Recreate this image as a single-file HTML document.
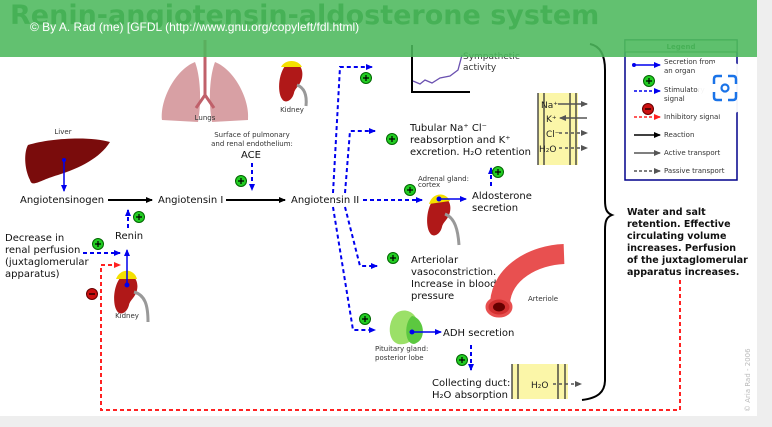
<!DOCTYPE html>
<html><head><meta charset="utf-8"><style>
html,body{margin:0;padding:0;background:#eeeeee;}
svg{display:block;font-family:"DejaVu Sans","Liberation Sans",sans-serif;}
</style></head><body>
<svg width="772" height="427" viewBox="0 0 772 427" xmlns="http://www.w3.org/2000/svg">
<defs>
<marker id="ab" markerUnits="userSpaceOnUse" markerWidth="7" markerHeight="7" refX="6" refY="3.5" orient="auto"><path d="M0,0.5 L7,3.5 L0,6.5z" fill="#0000ee"/></marker>
<marker id="ak" markerUnits="userSpaceOnUse" markerWidth="7" markerHeight="7" refX="6" refY="3.5" orient="auto"><path d="M0,0.5 L7,3.5 L0,6.5z" fill="#000"/></marker>
<marker id="ag" markerUnits="userSpaceOnUse" markerWidth="7" markerHeight="7" refX="6" refY="3.5" orient="auto"><path d="M0,0.5 L7,3.5 L0,6.5z" fill="#555"/></marker>
<marker id="ar" markerUnits="userSpaceOnUse" markerWidth="7" markerHeight="7" refX="6" refY="3.5" orient="auto"><path d="M0,0.5 L7,3.5 L0,6.5z" fill="#f22"/></marker>
<g id="plus"><circle r="5.5" fill="#22cc22" stroke="#060" stroke-width="1"/><path d="M-3,0h6M0,-3v6" stroke="#000" stroke-width="1.2"/></g>
<g id="minus"><circle r="5.5" fill="#cc1111" stroke="#600" stroke-width="1"/><path d="M-3,0h6" stroke="#000" stroke-width="1.2"/></g>
<g id="kid"><path d="M9,0 C19,-1 24,7 22,16 C20,24 15,26 14,31 C12,39 5,42 2,37 C-3,30 -2,8 9,0z" fill="#b01818"/></g>
</defs>
<rect x="0" y="0" width="757" height="416" fill="#fff"/>
<text x="10" y="24" font-size="27" font-weight="bold" fill="#1d7a2c">Renin-angiotensin-aldosterone system</text>

<!-- lungs -->
<path d="M195,62 C175,70 160,100 162,120 L198,122 C202,100 200,75 195,62z M215,62 C235,70 250,100 248,120 L212,122 C208,100 210,75 215,62z" fill="#d8a0a4"/>
<path d="M205,40 V95 M205,95 L196,108 M205,95 L214,108" stroke="#c0606a" stroke-width="3" fill="none"/>
<text x="205" y="120" font-size="7" text-anchor="middle" fill="#333">Lungs</text>
<use href="#kid" x="280" y="62"/>
<path d="M281,67 C285,59 298,59 302,67z" fill="#f4e000"/>
<path d="M297,85 C305,88 307,96 306,106" stroke="#999" stroke-width="3" fill="none"/>
<text x="292" y="112" font-size="7" text-anchor="middle" fill="#333">Kidney</text>

<!-- liver -->
<text x="63" y="134" font-size="7" text-anchor="middle" fill="#333">Liver</text>
<path d="M28,145 C50,138 90,136 110,142 C100,158 80,168 58,175 C40,180 32,188 30,180 C24,168 24,152 28,145z" fill="#7a0c0c"/>
<path d="M64,160 V191" stroke="#0000ee" stroke-width="1.5" marker-end="url(#ab)"/><circle cx="64" cy="160" r="2" fill="#0000ee"/>

<g font-size="10" fill="#111">
<text x="20" y="203">Angiotensinogen</text>
<text x="158" y="203">Angiotensin I</text>
<text x="291" y="203">Angiotensin II</text>
<text x="115" y="239">Renin</text>
<text x="5" y="241">Decrease in</text>
<text x="5" y="253">renal perfusion</text>
<text x="5" y="265">(juxtaglomerular</text>
<text x="5" y="277">apparatus)</text>
<text x="251" y="158" text-anchor="middle">ACE</text>
<text x="410" y="131">Tubular Na⁺ Cl⁻</text>
<text x="410" y="143">reabsorption and K⁺</text>
<text x="410" y="155">excretion. H₂O retention</text>
<text x="472" y="199">Aldosterone</text>
<text x="472" y="211">secretion</text>
<text x="411" y="263">Arteriolar</text>
<text x="411" y="275">vasoconstriction.</text>
<text x="411" y="287">Increase in blood</text>
<text x="411" y="299">pressure</text>
<text x="443" y="336">ADH secretion</text>
<text x="432" y="386">Collecting duct:</text>
<text x="432" y="398">H₂O absorption</text>
</g>
<text x="463" y="59" font-size="9" fill="#333">Sympathetic</text>
<text x="463" y="70" font-size="9" fill="#333">activity</text>
<g font-size="7" fill="#333">
<text x="252" y="137" text-anchor="middle">Surface of pulmonary</text>
<text x="252" y="146" text-anchor="middle">and renal endothelium:</text>
<text x="418" y="181">Adrenal gland:</text>
<text x="418" y="187">cortex</text>
<text x="127" y="318" text-anchor="middle">Kidney</text>
<text x="528" y="301">Arteriole</text>
<text x="375" y="351">Pituitary gland:</text>
<text x="375" y="360">posterior lobe</text>
</g>

<path d="M108,200 H152" stroke="#000" stroke-width="2" marker-end="url(#ak)"/>
<path d="M226,200 H285" stroke="#000" stroke-width="2" marker-end="url(#ak)"/>
<g stroke="#0000ee" stroke-width="2" stroke-dasharray="4,3" fill="none" marker-end="url(#ab)">
<path d="M252,163 V190"/>
<path d="M128,228 V210"/>
<path d="M83,253 H120"/>
<path d="M363,200 H422"/>
<path d="M333,193 L340,67 H372"/>
<path d="M345,193 L350,131 H375"/>
<path d="M345,207 L360,266 H377"/>
<path d="M333,207 L353,330 H375"/>
<path d="M491,186 V168"/>
<path d="M471,345 V370"/>
</g>
<g stroke="#f22" stroke-width="2" stroke-dasharray="4,3" fill="none">
<path d="M680,280 V410 H101 V265 H120" marker-end="url(#ar)"/>
</g>
<use href="#plus" x="139" y="217"/><use href="#plus" x="98" y="244"/><use href="#plus" x="241" y="181"/>
<use href="#plus" x="366" y="78"/><use href="#plus" x="392" y="139"/><use href="#plus" x="410" y="190"/>
<use href="#plus" x="498" y="172"/><use href="#plus" x="393" y="258"/><use href="#plus" x="365" y="319"/>
<use href="#plus" x="462" y="360"/>
<use href="#minus" x="92" y="294"/>

<!-- kidney bottom -->
<use href="#kid" x="115" y="274"/>
<path d="M116,279 C120,268 134,268 137,279z" fill="#f4e000"/>
<path d="M134,292 C145,295 148,305 148,322" stroke="#999" stroke-width="3" fill="none"/>
<path d="M127,285 V250" stroke="#0000ee" stroke-width="1.5" marker-end="url(#ab)"/><circle cx="127" cy="285" r="2.5" fill="#0000ee"/>

<!-- adrenal kidney -->
<use href="#kid" x="428" y="196"/>
<path d="M429,204 C432,193 445,191 450,201z" fill="#f4e000"/>
<path d="M445,214 C455,218 458,230 459,245" stroke="#999" stroke-width="3" fill="none"/>
<path d="M439,199 H466" stroke="#0000ee" stroke-width="1.5" marker-end="url(#ab)"/><circle cx="439" cy="199" r="2.5" fill="#0000ee"/>

<!-- graph -->
<path d="M412,45 V92 H470" stroke="#000" stroke-width="2" fill="none"/>
<path d="M413,81 L420,84 L425,80 L432,83 L440,78 L450,76 L458,70 L462,55" stroke="#6a50b0" stroke-width="1.3" fill="none"/>

<!-- ion box -->
<rect x="538" y="93" width="40" height="72" fill="#fbf6a8"/>
<path d="M538,93v72M544,93v72M570,93v72M576,93v72" stroke="#333" stroke-width="1.3"/>
<g font-size="9" fill="#222"><text x="541" y="108">Na⁺</text><text x="546" y="122">K⁺</text><text x="546" y="137">Cl⁻</text><text x="539" y="152">H₂O</text></g>
<path d="M558,104 H587" stroke="#555" stroke-width="1.5" marker-end="url(#ag)"/>
<path d="M587,118 H560" stroke="#555" stroke-width="1.5" marker-end="url(#ag)"/>
<path d="M559,133 H587" stroke="#555" stroke-width="1.5" stroke-dasharray="3,3" marker-end="url(#ag)"/>
<path d="M559,148 H587" stroke="#555" stroke-width="1.5" stroke-dasharray="3,3" marker-end="url(#ag)"/>

<!-- collecting duct box -->
<rect x="512" y="364" width="56" height="35" fill="#fbf6a8"/>
<path d="M512,364v35M518,364v35M558,364v35M565,364v35" stroke="#333" stroke-width="1.3"/>
<text x="531" y="388" font-size="9" fill="#222">H₂O</text>
<path d="M553,384 H581" stroke="#555" stroke-width="1.5" stroke-dasharray="3,3" marker-end="url(#ag)"/>

<!-- arteriole -->
<path d="M500,303 C502,272 535,255 564,254" stroke="#e85050" stroke-width="20" fill="none" stroke-linecap="butt"/>
<ellipse cx="499" cy="307" rx="12" ry="9" fill="#d23030" stroke="#e85050" stroke-width="3"/>
<ellipse cx="499" cy="307" rx="6" ry="4.5" fill="#600"/>

<!-- pituitary -->
<path d="M398,312 C388,318 386,340 398,344 C410,346 418,336 418,324 C416,312 406,308 398,312z" fill="#9be068"/>
<path d="M412,316 C424,318 428,340 414,344 C404,344 404,322 412,316z" fill="#5cc840"/>
<path d="M412,332 H441" stroke="#0000ee" stroke-width="1.5" marker-end="url(#ab)"/><circle cx="412" cy="332" r="2.5" fill="#0000ee"/>

<!-- brace -->
<path d="M590,44 C600,46 605,55 605,70 V200 C605,210 607,213 612,215 C607,217 605,220 605,230 V380 C605,392 598,398 582,400" stroke="#000" stroke-width="2" fill="none"/>

<g font-size="9.5" font-weight="bold" fill="#111">
<text x="627" y="215">Water and salt</text>
<text x="627" y="227">retention. Effective</text>
<text x="627" y="239">circulating volume</text>
<text x="627" y="251">increases. Perfusion</text>
<text x="627" y="263">of the juxtaglomerular</text>
<text x="627" y="275">apparatus increases.</text>
</g>

<!-- legend -->
<rect x="625" y="40" width="112" height="140" fill="#fff" stroke="#00008b" stroke-width="1.5"/>
<rect x="625" y="40" width="112" height="12" fill="#dff0e0" stroke="#1a7a2a" stroke-width="1"/>
<text x="681" y="49" font-size="7" font-weight="bold" text-anchor="middle" fill="#1a7a2a">Legend</text>
<g font-size="7" fill="#333">
<text x="664" y="64">Secretion from</text><text x="664" y="73">an organ</text>
<text x="664" y="92">Stimulatory</text><text x="664" y="101">signal</text>
<text x="664" y="119">Inhibitory signal</text>
<text x="664" y="137">Reaction</text>
<text x="664" y="155">Active transport</text>
<text x="664" y="173">Passive transport</text>
</g>
<path d="M634,65 H660" stroke="#0000ee" stroke-width="1.5" marker-end="url(#ab)"/><circle cx="634" cy="65" r="2" fill="#0000ee"/>
<use href="#plus" x="649" y="81"/>
<path d="M634,91 H660" stroke="#0000ee" stroke-width="1.5" stroke-dasharray="3,2" marker-end="url(#ab)"/>
<use href="#minus" x="648" y="109"/>
<path d="M634,117 H660" stroke="#f22" stroke-width="1.5" stroke-dasharray="3,2" marker-end="url(#ar)"/>
<path d="M634,135 H660" stroke="#000" stroke-width="1.5" marker-end="url(#ak)"/>
<path d="M634,153 H660" stroke="#555" stroke-width="1.5" marker-end="url(#ag)"/>
<path d="M634,171 H660" stroke="#555" stroke-width="1.5" stroke-dasharray="3,2" marker-end="url(#ag)"/>

<text transform="translate(750,412) rotate(-90)" font-size="7" fill="#bbb">© Aria Rad - 2006</text>

<!-- banner -->
<rect x="0" y="0" width="757" height="57" fill="#4cb85c" opacity="0.88"/>
<text x="30" y="31" font-size="12" fill="#fff" font-family="Liberation Sans, sans-serif">©  By A. Rad (me) [GFDL (http://www.gnu.org/copyleft/fdl.html)</text>

<!-- lens icon -->
<circle cx="725" cy="88" r="27" fill="#fff" opacity="0.95"/>
<path d="M714,84 v-5 q0,-3 3,-3 h5 M728,76 h5 q3,0 3,3 v5 M736,92 v5 q0,3 -3,3 h-5 M722,100 h-5 q-3,0 -3,-3 v-5" stroke="#1a73e8" stroke-width="2.5" fill="none"/>
<circle cx="725" cy="88" r="3.5" fill="none" stroke="#1a73e8" stroke-width="2.2"/>
</svg>
</body></html>
